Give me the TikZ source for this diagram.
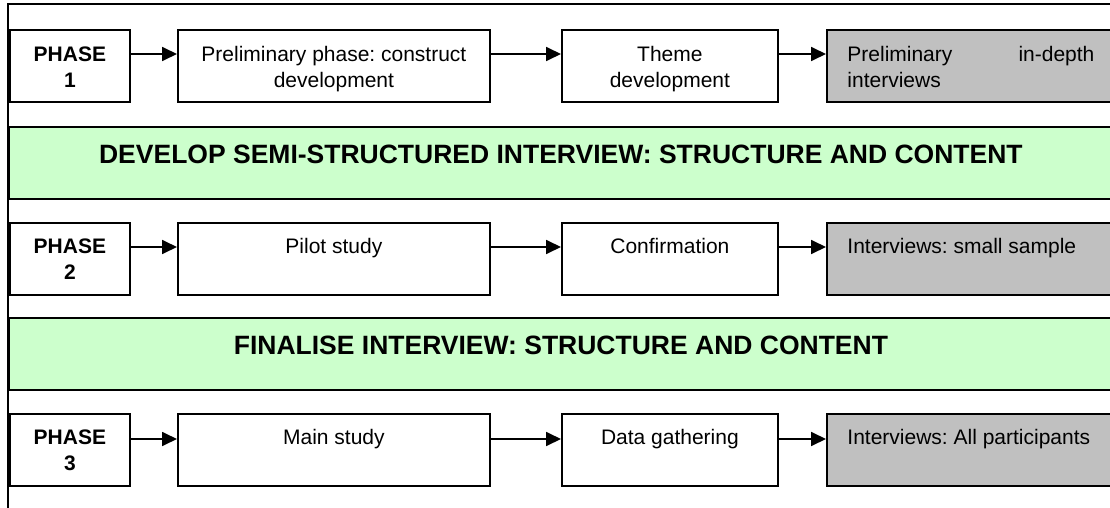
\documentclass[tikz,border=0pt]{standalone}
\usepackage{fontspec}
\setmainfont{Liberation Sans}
\usetikzlibrary{arrows.meta}
\frenchspacing
\definecolor{bandgreen}{HTML}{CCFFCC}
\definecolor{donegrey}{HTML}{C0C0C0}
\newcommand{\celltext}[2]{\parbox[c][72pt][t]{#1}{\centering\rule{0pt}{31pt}#2}}
\newcommand{\bandtext}[1]{\parbox[c][72pt][t]{1080pt}{\centering\rule{0pt}{36.5pt}#1}}
\begin{document}
\begin{tikzpicture}[x=1pt,y=-1pt,
  font=\fontsize{21}{25.7}\selectfont,
  cell/.style={draw,line width=1.8pt,inner sep=0pt,minimum height=72pt,anchor=north west},
  band/.style={cell,fill=bandgreen,minimum width=1104pt,font=\fontsize{26.5}{32}\selectfont\bfseries},
  flow/.style={-{Triangle[length=15pt,width=14pt]},line width=1.8pt}]
  \useasboundingbox (0,0) rectangle (1110,508);
  \draw[line width=1.8pt] (8,520) |- (1120,4);
  % phase 1
  \node[cell,minimum width=120pt] (phase1) at (9,29.5) {\celltext{110pt}{\bfseries PHASE\\1}};
  \node[cell,minimum width=312pt] (prelim) at (177,29.5) {\celltext{290pt}{Preliminary phase: construct\\development}};
  \node[cell,minimum width=216pt] (theme) at (561,29.5) {\celltext{200pt}{Theme\\development}};
  \node[cell,fill=donegrey,minimum width=288pt] (indepth) at (826,29.5) {\parbox[c][72pt][t]{247pt}{\rule{0pt}{31pt}Preliminary\hfill in-depth\\interviews}};
  \node[band] (develop) at (8,126) {\bandtext{DEVELOP SEMI-STRUCTURED INTERVIEW: STRUCTURE AND CONTENT}};
  % phase 2
  \node[cell,minimum width=120pt] (phase2) at (9,222) {\celltext{110pt}{\bfseries PHASE\\2}};
  \node[cell,minimum width=312pt] (pilot) at (177,222) {\celltext{290pt}{Pilot study}};
  \node[cell,minimum width=216pt] (confirm) at (561,222) {\celltext{200pt}{Confirmation}};
  \node[cell,fill=donegrey,minimum width=288pt] (small) at (826,222) {\parbox[c][72pt][t]{247pt}{\rule{0pt}{31pt}Interviews: small sample}};
  \node[band] (finalise) at (8,317) {\bandtext{FINALISE INTERVIEW: STRUCTURE AND CONTENT}};
  % phase 3
  \node[cell,minimum width=120pt] (phase3) at (9,413) {\celltext{110pt}{\bfseries PHASE\\3}};
  \node[cell,minimum width=312pt] (mainstudy) at (177,413) {\celltext{290pt}{Main study}};
  \node[cell,minimum width=216pt] (gather) at (561,413) {\celltext{200pt}{Data gathering}};
  \node[cell,fill=donegrey,minimum width=288pt] (allpart) at (826,413) {\parbox[c][72pt][t]{247pt}{\rule{0pt}{31pt}Interviews: All participants}};
  % arrows
  \draw[flow] ([yshift=-24.5pt]phase1.north east) -- ([yshift=-24.5pt]prelim.north west);
  \draw[flow] ([yshift=-24.5pt]prelim.north east) -- ([yshift=-24.5pt]theme.north west);
  \draw[flow] ([yshift=-24.5pt]theme.north east) -- ([yshift=-24.5pt]indepth.north west);
  \draw[flow] ([yshift=-25pt]phase2.north east) -- ([yshift=-25pt]pilot.north west);
  \draw[flow] ([yshift=-25pt]pilot.north east) -- ([yshift=-25pt]confirm.north west);
  \draw[flow] ([yshift=-25pt]confirm.north east) -- ([yshift=-25pt]small.north west);
  \draw[flow] ([yshift=-26pt]phase3.north east) -- ([yshift=-26pt]mainstudy.north west);
  \draw[flow] ([yshift=-26pt]mainstudy.north east) -- ([yshift=-26pt]gather.north west);
  \draw[flow] ([yshift=-26pt]gather.north east) -- ([yshift=-26pt]allpart.north west);
\end{tikzpicture}
\end{document}
